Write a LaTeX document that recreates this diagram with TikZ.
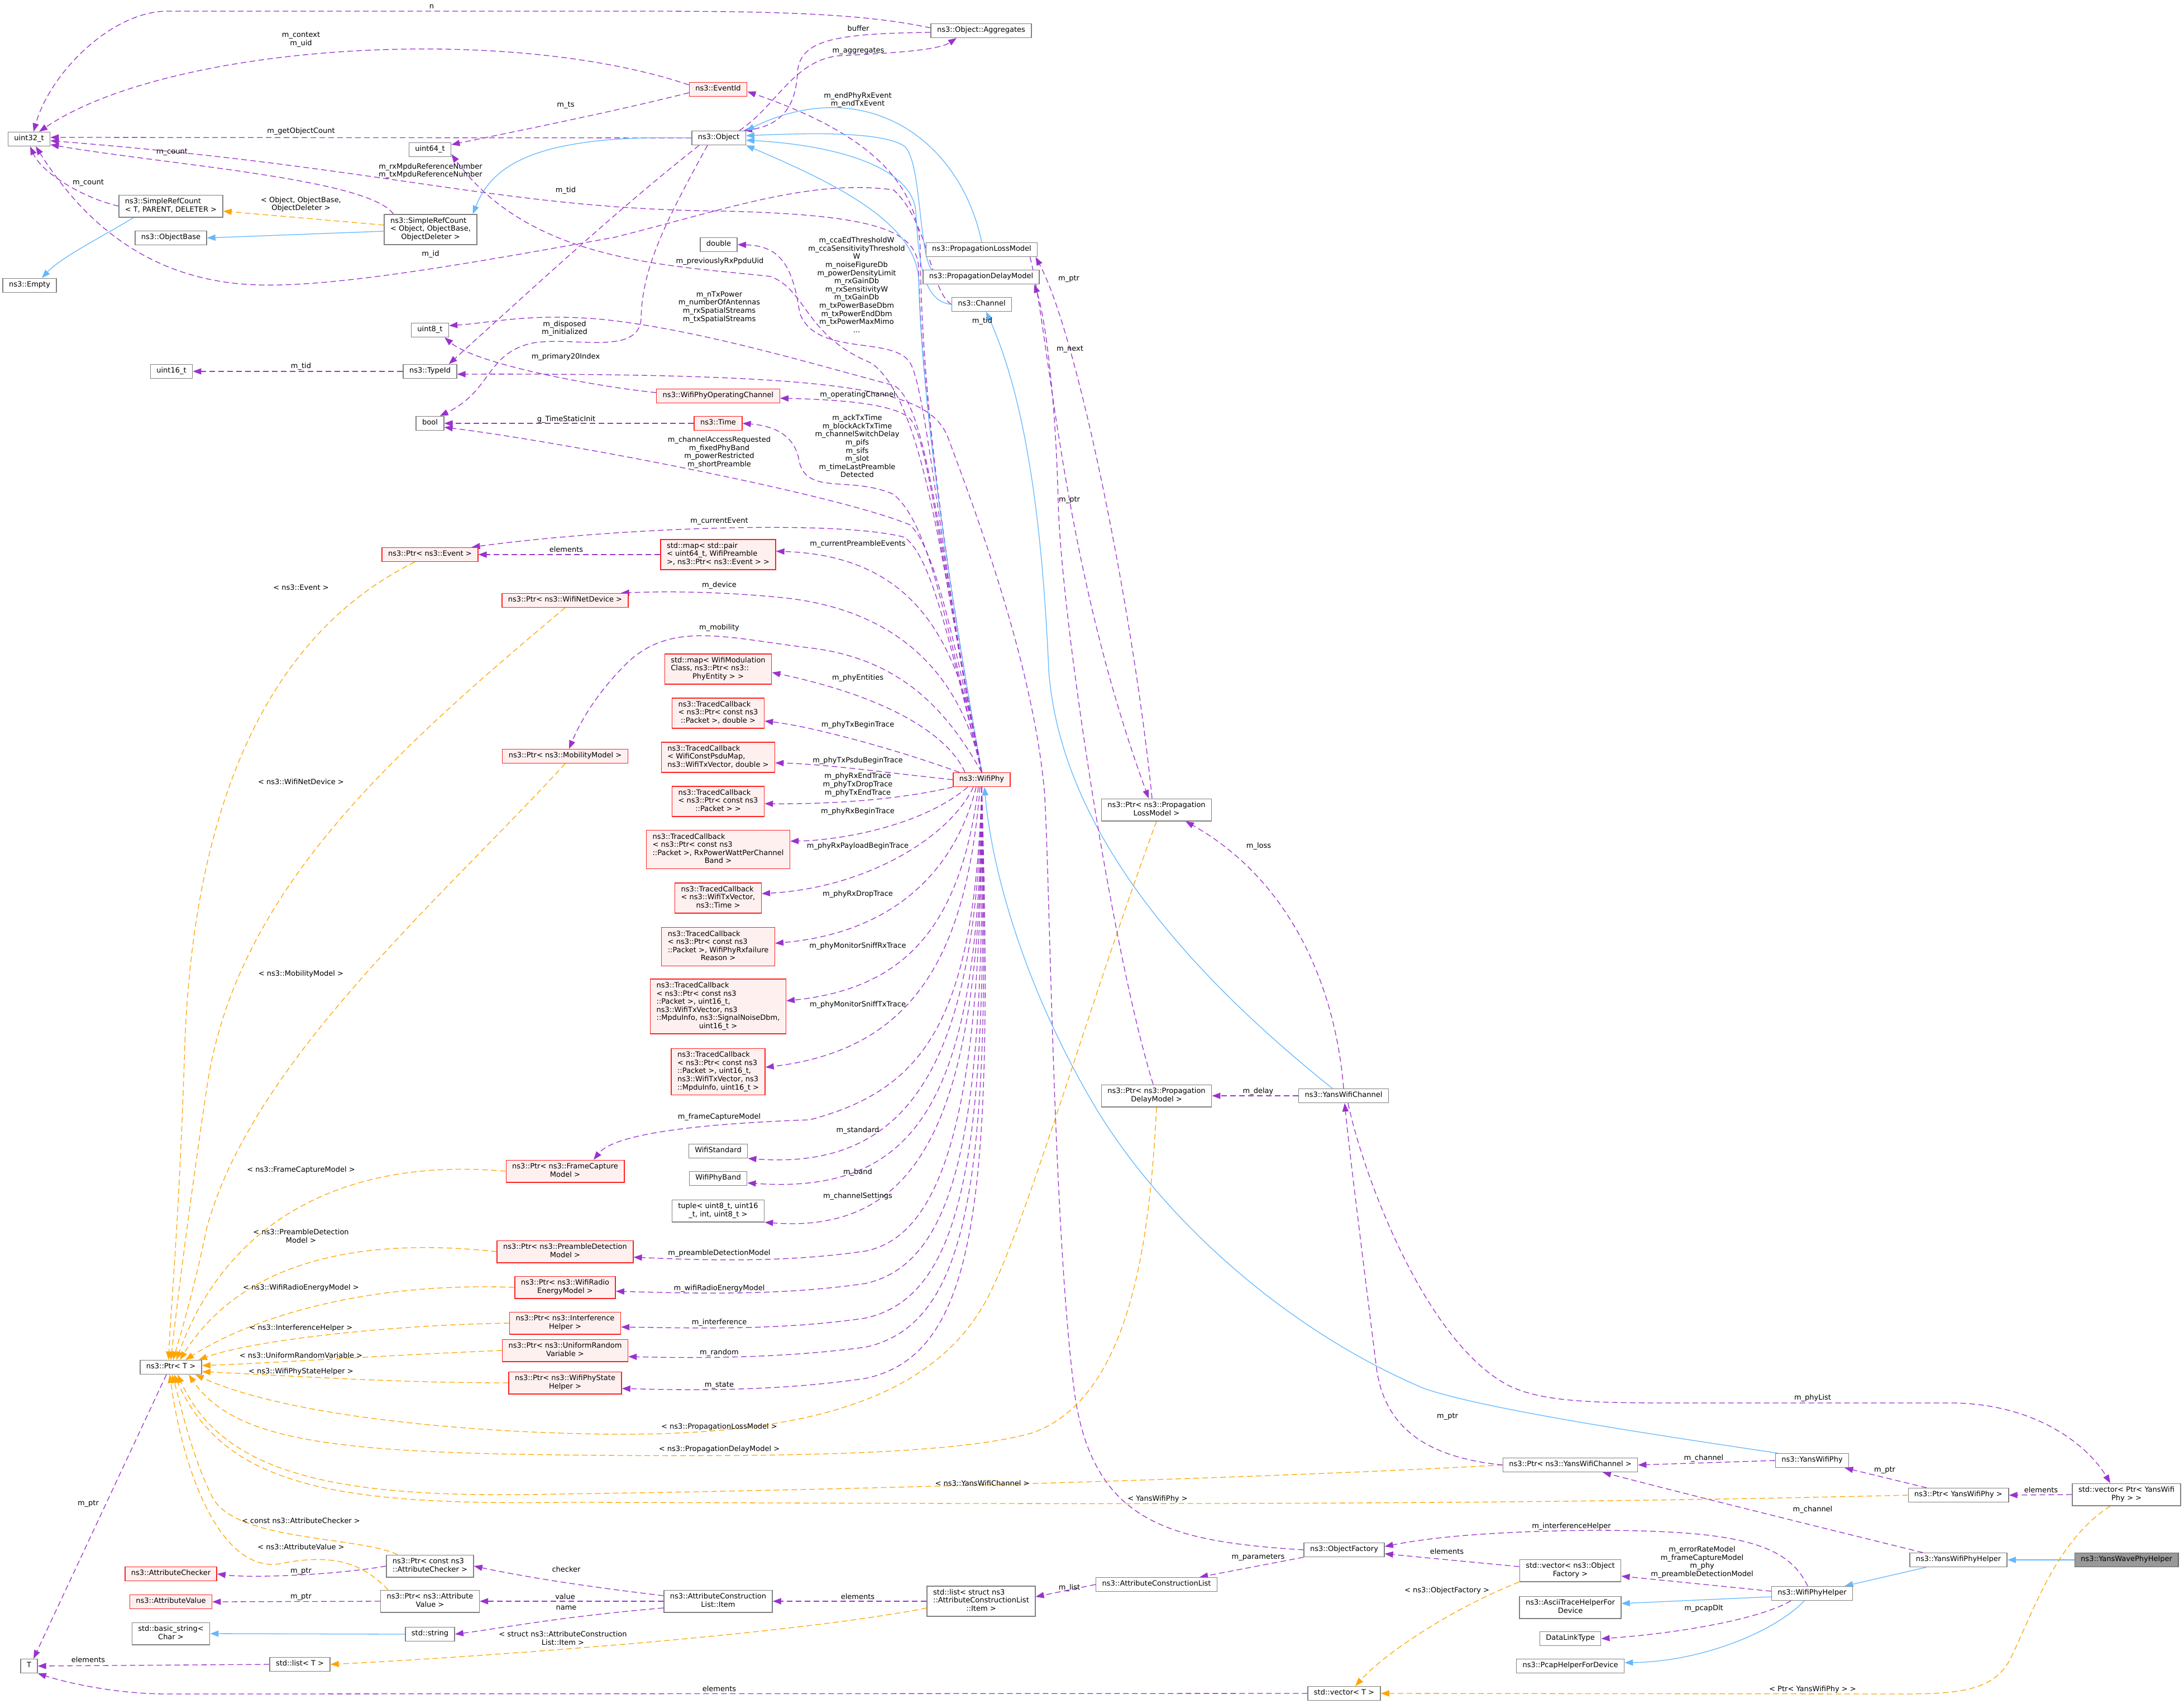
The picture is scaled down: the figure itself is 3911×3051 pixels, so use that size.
\documentclass[tikz,border=0pt]{standalone}
\usepackage{fontspec}
\setmainfont{DejaVu Sans}
\usetikzlibrary{arrows.meta}
\definecolor{purp}{HTML}{9A32CD}
\definecolor{orng}{HTML}{FFA500}
\definecolor{blu}{HTML}{63B8FF}
\definecolor{gborder}{HTML}{808080}
\definecolor{redb}{HTML}{FF2020}
\definecolor{redf}{HTML}{FFF0F0}
\definecolor{hb}{HTML}{666666}
\definecolor{hf}{HTML}{999999}
\pgfdeclarelayer{bg}
\pgfsetlayers{bg,main}
\newcommand{\nodefont}{\fontsize{13}{14.6}\selectfont}
\newcommand{\mytbl}[1]{\begin{tabular}{@{}l@{}}#1\end{tabular}}
\newcommand{\mylc}[1]{\multicolumn{1}{@{}c@{}}{#1}}
\tikzset{
 box/.style={draw=gborder, fill=white, line width=1.4pt, inner xsep=11pt, inner ysep=5.2pt, font=\nodefont},
 rbox/.style={box, draw=redb, fill=redf},
 hbox/.style={box, draw=hb, fill=hf},
 lbl/.style={font=\nodefont, align=center, inner sep=0pt},
 pe/.style={draw=purp, line width=1.3pt, dash pattern=on 10pt off 6pt, -{Triangle[length=15pt,width=11pt]}},
 oe/.style={draw=orng, line width=1.3pt, dash pattern=on 10pt off 6pt, -{Triangle[length=15pt,width=11pt]}},
 be/.style={draw=blu, line width=1.3pt, -{Triangle[length=15pt,width=11pt]}},
}
\begin{document}
\begin{tikzpicture}[x=1pt,y=-1pt]
\useasboundingbox (0,0) rectangle (3911,3051);
% ---------------- nodes ----------------
\node[box] (u32) at (52,249) {\mytbl{uint32\_t}};
\node[box] (u64) at (770,268) {\mytbl{uint64\_t}};
\node[box] (srcT) at (306,369) {\mytbl{ns3::SimpleRefCount\\\mylc{< T, PARENT, DELETER >}}};
\node[box] (objbase) at (306,426) {\mytbl{ns3::ObjectBase}};
\node[box] (srcO) at (771,411) {\mytbl{ns3::SimpleRefCount\\< Object, ObjectBase,\\\mylc{ObjectDeleter >}}};
\node[box] (empty) at (53,511) {\mytbl{ns3::Empty}};
\node[box] (u8) at (770,591) {\mytbl{uint8\_t}};
\node[box] (u16) at (307,665) {\mytbl{uint16\_t}};
\node[box] (typeid) at (770,665) {\mytbl{ns3::TypeId}};
\node[rbox] (eventid) at (1286,160) {\mytbl{ns3::EventId}};
\node[box] (object) at (1287,247) {\mytbl{ns3::Object}};
\node[box] (aggr) at (1757,55) {\mytbl{ns3::Object::Aggregates}};
\node[box] (double) at (1287,438) {\mytbl{double}};
\node[box] (plm) at (1758,447) {\mytbl{ns3::PropagationLossModel}};
\node[box] (pdm) at (1757,496) {\mytbl{ns3::PropagationDelayModel}};
\node[box] (channel) at (1758,545) {\mytbl{ns3::Channel}};
\node[rbox] (opch) at (1286,709) {\mytbl{ns3::WifiPhyOperatingChannel}};
\node[box] (bool) at (770,758) {\mytbl{bool}};
\node[rbox] (time) at (1286,758) {\mytbl{ns3::Time}};
\node[rbox] (pevent) at (770,993) {\mytbl{ns3::Ptr< ns3::Event >}};
\node[rbox] (mapev) at (1286,993) {\mytbl{std::map< std::pair\\< uint64\_t, WifiPreamble\\\mylc{ >, ns3::Ptr< ns3::Event > >}}};
\node[rbox] (pdev) at (1012,1075) {\mytbl{ns3::Ptr< ns3::WifiNetDevice >}};
\node[rbox] (mapmod) at (1286,1198) {\mytbl{std::map< WifiModulation\\Class, ns3::Ptr< ns3::\\\mylc{PhyEntity > >}}};
\node[rbox] (tc1) at (1286,1277) {\mytbl{ns3::TracedCallback\\< ns3::Ptr< const ns3\\\mylc{::Packet >, double >}}};
\node[rbox] (tc2) at (1286,1356) {\mytbl{ns3::TracedCallback\\< WifiConstPsduMap,\\\mylc{ns3::WifiTxVector, double >}}};
\node[rbox] (tc3) at (1286,1435) {\mytbl{ns3::TracedCallback\\< ns3::Ptr< const ns3\\\mylc{::Packet > >}}};
\node[rbox] (tc4) at (1286,1521) {\mytbl{ns3::TracedCallback\\< ns3::Ptr< const ns3\\::Packet >, RxPowerWattPerChannel\\\mylc{Band >}}};
\node[rbox] (tc5) at (1286,1608) {\mytbl{ns3::TracedCallback\\< ns3::WifiTxVector,\\\mylc{ns3::Time >}}};
\node[rbox] (tc6) at (1286,1695) {\mytbl{ns3::TracedCallback\\< ns3::Ptr< const ns3\\::Packet >, WifiPhyRxfailure\\\mylc{Reason >}}};
\node[rbox] (tc7) at (1286,1802) {\mytbl{ns3::TracedCallback\\< ns3::Ptr< const ns3\\::Packet >, uint16\_t,\\ ns3::WifiTxVector, ns3\\::MpduInfo, ns3::SignalNoiseDbm,\\\mylc{uint16\_t >}}};
\node[rbox] (tc8) at (1286,1919) {\mytbl{ns3::TracedCallback\\< ns3::Ptr< const ns3\\::Packet >, uint16\_t,\\ ns3::WifiTxVector, ns3\\\mylc{::MpduInfo, uint16\_t >}}};
\node[rbox] (pmob) at (1012,1354) {\mytbl{ns3::Ptr< ns3::MobilityModel >}};
\node[box] (wstd) at (1286,2061) {\mytbl{WifiStandard}};
\node[box] (wband) at (1286,2110) {\mytbl{WifiPhyBand}};
\node[box] (tuple) at (1286,2168) {\mytbl{tuple< uint8\_t, uint16\\\mylc{\_t, int, uint8\_t >}}};
\node[rbox] (pfc) at (1012,2097) {\mytbl{ns3::Ptr< ns3::FrameCapture\\\mylc{Model >}}};
\node[rbox] (ppd) at (1012,2241) {\mytbl{ns3::Ptr< ns3::PreambleDetection\\\mylc{Model >}}};
\node[rbox] (pre) at (1012,2305) {\mytbl{ns3::Ptr< ns3::WifiRadio\\\mylc{EnergyModel >}}};
\node[rbox] (pih) at (1012,2369) {\mytbl{ns3::Ptr< ns3::Interference\\\mylc{Helper >}}};
\node[rbox] (pur) at (1012,2418) {\mytbl{ns3::Ptr< ns3::UniformRandom\\\mylc{Variable >}}};
\node[rbox] (pps) at (1012,2476) {\mytbl{ns3::Ptr< ns3::WifiPhyState\\\mylc{Helper >}}};
\node[box] (ptrT) at (306,2448) {\mytbl{ns3::Ptr< T >}};
\node[box] (T) at (52,2983) {\mytbl{T}};
\node[rbox] (achk) at (306,2818) {\mytbl{ns3::AttributeChecker}};
\node[rbox] (aval) at (306,2868) {\mytbl{ns3::AttributeValue}};
\node[box] (bstr) at (306,2925) {\mytbl{std::basic\_string<\\\mylc{Char >}}};
\node[box] (listT) at (537,2980) {\mytbl{std::list< T >}};
\node[box] (pachk) at (770,2804) {\mytbl{ns3::Ptr< const ns3\\\mylc{::AttributeChecker >}}};
\node[box] (paval) at (770,2867) {\mytbl{ns3::Ptr< ns3::Attribute\\\mylc{Value >}}};
\node[box] (str) at (770,2926) {\mytbl{std::string}};
\node[box] (item) at (1286,2867) {\mytbl{ns3::AttributeConstruction\\\mylc{List::Item}}};
\node[box] (listItem) at (1757,2867) {\mytbl{std::list< struct ns3\\::AttributeConstructionList\\\mylc{::Item >}}};
\node[box] (acl) at (2071,2837) {\mytbl{ns3::AttributeConstructionList}};
\node[box] (ofac) at (2407,2775) {\mytbl{ns3::ObjectFactory}};
\node[box] (vecof) at (2812,2812) {\mytbl{std::vector< ns3::Object\\\mylc{Factory >}}};
\node[box] (ascii) at (2812,2878) {\mytbl{ns3::AsciiTraceHelperFor\\\mylc{Device}}};
\node[box] (dlt) at (2812,2934) {\mytbl{DataLinkType}};
\node[box] (pcap) at (2812,2983) {\mytbl{ns3::PcapHelperForDevice}};
\node[box] (vecT) at (2407,3032) {\mytbl{std::vector< T >}};
\node[box] (wph) at (3245,2853) {\mytbl{ns3::WifiPhyHelper}};
\node[box] (ywph) at (3507,2793) {\mytbl{ns3::YansWifiPhyHelper}};
\node[hbox] (ywave) at (3808,2793) {\mytbl{ns3::YansWavePhyHelper}};
\node[box] (vecpy) at (3808,2676) {\mytbl{std::vector< Ptr< YansWifi\\\mylc{Phy > >}}};
\node[box] (pywp) at (3507,2677) {\mytbl{ns3::Ptr< YansWifiPhy >}};
\node[box] (ywp) at (3245,2615) {\mytbl{ns3::YansWifiPhy}};
\node[box] (pywc) at (2812,2623) {\mytbl{ns3::Ptr< ns3::YansWifiChannel >}};
\node[box] (ywc) at (2406,1962) {\mytbl{ns3::YansWifiChannel}};
\node[box] (ppdm) at (2071,1962) {\mytbl{ns3::Ptr< ns3::Propagation\\\mylc{DelayModel >}}};
\node[box] (pplm) at (2071,1450) {\mytbl{ns3::Ptr< ns3::Propagation\\\mylc{LossModel >}}};
\node[rbox] (wifiphy) at (1758,1396) {\mytbl{ns3::WifiPhy}};
% ---------------- edges ----------------
\begin{pgfonlayer}{bg}
\fill[white] (0,0) rectangle (3911,3051);
% top area
\draw[pe] ([yshift=5pt]aggr.west) .. controls (1550,25) and (1400,20) .. (1150,20) -- (300,20) .. controls (200,20) and (90,130) .. ([xshift=8pt]u32.north);
\draw[pe] ([yshift=8pt]eventid.west) .. controls (900,40) and (300,80) .. ([xshift=18pt]u32.north);
\draw[pe] ([yshift=-6pt]eventid.west) .. controls (1100,200) and (900,240) .. ([yshift=9pt]u64.east);
\draw[pe] (object.west) -- ([yshift=3pt]u32.east);
\draw[pe] ([xshift=17pt]srcO.north west) .. controls (660,320) and (300,295) .. ([yshift=-10pt]u32.east);
\draw[pe] (srcT.west) .. controls (150,355) and (75,310) .. ([xshift=2pt]u32.south);
\draw[pe] (channel.west) .. controls (1665,520) and (1665,400) .. (1600,340) .. controls (1450,320) and (1300,375) .. (1100,425) .. controls (850,470) and (600,515) .. (460,510) .. controls (300,505) and (170,430) .. ([xshift=12pt]u32.south);
\draw[pe] (wifiphy.north) .. controls (1690,1000) and (1650,700) .. (1645,480) .. controls (1642,410) and (1560,385) .. (1300,378) .. controls (900,375) and (700,300) .. ([yshift=-3pt]u32.east);
\draw[pe] (wifiphy.north) .. controls (1690,1000) and (1650,700) .. (1648,450) .. controls (1646,330) and (1560,240) .. ([yshift=-4pt]eventid.east);
\draw[pe] (wifiphy.north) .. controls (1690,1050) and (1660,720) .. (1560,650) .. controls (1440,600) and (1445,520) .. (1380,495) .. controls (1200,475) and (950,470) .. ([yshift=-8pt]u64.east);
\draw[pe] (wifiphy.north) .. controls (1690,1050) and (1660,700) .. (1630,650) .. controls (1600,600) and (1460,640) .. (1432,560) .. controls (1420,480) and (1400,440) .. (double.east);
\draw[pe] (wifiphy.north) .. controls (1690,1050) and (1665,720) .. (1600,690) .. controls (1450,650) and (1250,590) .. (1080,572) .. controls (950,560) and (880,578) .. ([yshift=8pt]u8.east);
\draw[pe] (wifiphy.north) .. controls (1690,1050) and (1665,790) .. (1630,750) .. controls (1600,720) and (1480,715) .. ([yshift=-4pt]opch.east);
\draw[pe] (wifiphy.north) .. controls (1690,1100) and (1665,940) .. (1600,885) .. controls (1520,850) and (1440,890) .. (1430,820) .. controls (1420,775) and (1380,762) .. (time.east);
\draw[pe] (wifiphy.north) .. controls (1700,1100) and (1670,980) .. (1630,940) .. controls (1500,885) and (1000,790) .. ([yshift=-7pt]bool.east);
\draw[pe] (time.west) -- (bool.east);
\draw[pe] ([xshift=-20pt]object.south) .. controls (1190,400) and (1150,480) .. (1148,570) .. controls (1145,640) and (1020,600) .. (950,615) .. controls (870,635) and (880,700) .. ([xshift=-8pt]bool.north east);
\draw[pe] ([xshift=-35pt]object.south) .. controls (1100,380) and (950,520) .. ([xshift=-15pt]typeid.north east);
\draw[pe] (typeid.west) -- (u16.east);
\draw[pe] ([yshift=6pt]opch.west) .. controls (1050,690) and (850,650) .. ([xshift=-8pt]u8.south east);
\draw[pe] (ofac.west) .. controls (2100,2760) and (1960,2730) .. (1925,2500) .. controls (1885,2200) and (1880,1550) .. (1870,1414) .. controls (1850,1200) and (1760,950) .. (1700,790) .. controls (1670,700) and (1550,668) .. ([yshift=-5pt]typeid.east);
\draw[pe] ([xshift=-12pt]object.north east) .. controls (1390,190) and (1420,110) .. (1500,100) .. controls (1600,95) and (1680,90) .. ([xshift=-44pt]aggr.south);
\draw[pe] ([yshift=-3pt]aggr.west) .. controls (1500,60) and (1432,70) .. (1428,130) .. controls (1425,200) and (1390,225) .. ([xshift=-4pt]object.north east);
% inheritance (blue)
\draw[be] (plm.north) .. controls (1720,250) and (1550,130) .. (object.north east);
\draw[be] ([xshift=16pt]pdm.north west) .. controls (1645,450) and (1650,290) .. (1620,262) .. controls (1580,235) and (1450,238) .. ([yshift=4pt]object.east);
\draw[be] (channel.west) .. controls (1650,540) and (1645,460) .. (1640,380) .. controls (1635,300) and (1500,260) .. ([yshift=-4pt]object.east);
\draw[be] (wifiphy.north) .. controls (1690,1000) and (1650,700) .. (1645,500) .. controls (1640,400) and (1500,330) .. (object.south east);
\draw[be] (object.west) .. controls (950,240) and (880,300) .. ([xshift=-8pt]srcO.north east);
\draw[be] ([yshift=-3pt]srcO.west) -- (objbase.east);
\draw[be] ([xshift=27pt]srcT.south west) .. controls (190,420) and (110,460) .. ([xshift=22pt]empty.north);
\draw[oe] ([yshift=8pt]srcO.west) -- ([yshift=-9pt]srcT.east);
\draw[be] ([xshift=-20pt]ywc.north) .. controls (2150,1760) and (1900,1500) .. (1878,1200) .. controls (1865,900) and (1830,700) .. ([xshift=8pt]channel.south);
\draw[be] ([xshift=5pt]ywp.north west) .. controls (2900,2560) and (2650,2520) .. (2550,2486) .. controls (2300,2380) and (2080,2180) .. (1960,1980) .. controls (1830,1760) and (1775,1550) .. ([xshift=5pt]wifiphy.south);
\draw[be] (ywave.west) -- (ywph.east);
\draw[be] ([xshift=30pt]ywph.south west) -- ([xshift=-15pt]wph.north east);
\draw[be] ([yshift=-6pt]wph.west) -- ([yshift=7pt]ascii.east);
\draw[be] ([xshift=-14pt]wph.south) .. controls (3180,2920) and (3050,2975) .. ([yshift=6pt]pcap.east);
\draw[be] (str.west) -- (bstr.east);
% WifiPhy members (middle column)
\draw[pe] (wifiphy.north) .. controls (1700,1150) and (1670,1000) .. (1620,962) .. controls (1500,930) and (1100,945) .. ([xshift=-12pt]pevent.north east);
\draw[pe] (mapev.west) -- (pevent.east);
\draw[pe] (wifiphy.north) .. controls (1720,1150) and (1640,995) .. ([yshift=6pt]mapev.east);
\draw[pe] (wifiphy.north) .. controls (1720,1200) and (1600,1090) .. (1400,1070) .. controls (1300,1060) and (1200,1058) .. ([xshift=-14pt]pdev.north east);
\draw[pe] (wifiphy.north) .. controls (1700,1280) and (1620,1180) .. (1450,1160) .. controls (1300,1142) and (1200,1110) .. (1120,1190) .. controls (1070,1240) and (1040,1290) .. ([xshift=7pt]pmob.north);
\draw[pe] ([xshift=-30pt]wifiphy.north) .. controls (1700,1320) and (1600,1250) .. ([yshift=-6pt]mapmod.east);
\draw[pe] ([xshift=-40pt]wifiphy.north) .. controls (1600,1340) and (1450,1300) .. ([yshift=-14pt]tc1.east);
\draw[pe] (wifiphy.west) .. controls (1600,1385) and (1480,1368) .. ([yshift=-10pt]tc2.east);
\draw[pe] (wifiphy.south west) .. controls (1620,1430) and (1500,1440) .. ([yshift=-4pt]tc3.east);
\draw[pe] ([xshift=-25pt]wifiphy.south) .. controls (1650,1480) and (1500,1505) .. ([yshift=15pt]tc4.east);
\draw[pe] ([xshift=-15pt]wifiphy.south) .. controls (1700,1500) and (1550,1590) .. ([yshift=8pt]tc5.east);
\draw[pe] ([xshift=-10pt]wifiphy.south) .. controls (1710,1560) and (1600,1670) .. ([yshift=6pt]tc6.east);
\draw[pe] ([xshift=-6pt]wifiphy.south) .. controls (1720,1660) and (1620,1770) .. ([yshift=10pt]tc7.east);
\draw[pe] ([xshift=-3pt]wifiphy.south) .. controls (1730,1720) and (1630,1880) .. ([yshift=8pt]tc8.east);
\draw[pe] (wifiphy.south) .. controls (1745,1820) and (1660,1950) .. (1450,2005) .. controls (1250,2012) and (1100,2030) .. ([xshift=51pt]pfc.north);
\draw[pe] (wifiphy.south) .. controls (1750,1920) and (1620,2095) .. (wstd.south east);
\draw[pe] (wifiphy.south) .. controls (1755,1960) and (1650,2140) .. ([yshift=-8pt]wband.east);
\draw[pe] (wifiphy.south) .. controls (1760,2000) and (1650,2210) .. (tuple.south east);
\draw[pe] (wifiphy.south) .. controls (1760,1950) and (1700,2210) .. (1550,2240) .. controls (1400,2262) and (1250,2256) .. ([yshift=-10pt]ppd.east);
\draw[pe] (wifiphy.south) .. controls (1765,2000) and (1720,2260) .. (1550,2298) .. controls (1400,2320) and (1250,2316) .. ([yshift=-7pt]pre.east);
\draw[pe] (wifiphy.south) .. controls (1770,2050) and (1730,2320) .. (1550,2360) .. controls (1400,2382) and (1250,2378) .. ([yshift=-7pt]pih.east);
\draw[pe] (wifiphy.south) .. controls (1775,2100) and (1740,2370) .. (1550,2412) .. controls (1400,2432) and (1250,2432) .. ([yshift=-11pt]pur.east);
\draw[pe] (wifiphy.south) .. controls (1780,2150) and (1750,2425) .. (1550,2468) .. controls (1400,2490) and (1250,2490) .. ([yshift=-10pt]pps.east);
% template instances to Ptr<T>
\draw[oe] ([xshift=-27pt]pevent.south) .. controls (450,1150) and (340,1500) .. (330,1900) .. controls (320,2200) and (305,2350) .. ([xshift=-4pt]ptrT.north);
\draw[oe] (pdev.south) .. controls (700,1350) and (420,1600) .. (370,1950) .. controls (340,2150) and (315,2350) .. (ptrT.north);
\draw[oe] (pmob.south) .. controls (800,1600) and (450,1900) .. (370,2200) .. controls (345,2320) and (320,2400) .. ([xshift=4pt]ptrT.north);
\draw[oe] (pfc.west) .. controls (600,2070) and (400,2200) .. ([xshift=10pt]ptrT.north);
\draw[oe] (ppd.west) .. controls (600,2210) and (420,2280) .. ([xshift=16pt]ptrT.north);
\draw[oe] (pre.west) .. controls (650,2295) and (450,2360) .. ([xshift=26pt]ptrT.north);
\draw[oe] (pih.west) .. controls (700,2372) and (450,2400) .. ([xshift=-6pt]ptrT.north east);
\draw[oe] (pur.west) .. controls (700,2426) and (500,2440) .. ([yshift=3pt]ptrT.east);
\draw[oe] (pps.west) .. controls (700,2476) and (500,2462) .. ([yshift=-8pt]ptrT.east);
\draw[oe] (pplm.south) .. controls (1950,1800) and (1850,2150) .. (1780,2300) .. controls (1700,2480) and (1500,2570) .. (1100,2568) .. controls (800,2565) and (500,2530) .. ([xshift=-12pt]ptrT.south east);
\draw[oe] (ppdm.south) .. controls (2060,2200) and (2030,2500) .. (1850,2565) .. controls (1700,2610) and (1300,2608) .. (1000,2605) .. controls (600,2600) and (420,2580) .. ([xshift=-24pt]ptrT.south east);
\draw[oe] (pywc.west) .. controls (2200,2650) and (1400,2670) .. (1000,2675) .. controls (600,2685) and (400,2640) .. ([xshift=12pt]ptrT.south);
\draw[oe] (pywp.west) .. controls (2500,2700) and (1500,2690) .. (1000,2690) .. controls (600,2695) and (400,2660) .. ([xshift=6pt]ptrT.south);
\draw[oe] ([xshift=-58pt]pachk.north) .. controls (640,2750) and (420,2760) .. (380,2680) .. controls (340,2600) and (320,2500) .. ([xshift=2pt]ptrT.south);
\draw[oe] ([xshift=-75pt]paval.north) .. controls (650,2800) and (600,2780) .. (500,2800) .. controls (400,2815) and (330,2650) .. ([xshift=-2pt]ptrT.south);
% bottom left
\draw[pe] ([xshift=-8pt]ptrT.south) -- ([xshift=8pt]T.north);
\draw[pe] (listT.west) -- (T.east);
\draw[pe] (vecT.west) -- (300,3033) .. controls (200,3033) and (110,3010) .. (T.south east);
\draw[pe] (pachk.west) .. controls (600,2820) and (450,2826) .. (achk.east);
\draw[pe] (paval.west) -- (aval.east);
\draw[pe] ([yshift=10pt]item.west) .. controls (1000,2835) and (900,2815) .. (pachk.east);
\draw[pe] (item.west) -- (paval.east);
\draw[pe] ([yshift=-12pt]item.west) .. controls (1000,2895) and (900,2915) .. (str.east);
\draw[pe] (listItem.west) -- (item.east);
\draw[oe] ([yshift=-12pt]listItem.west) .. controls (1400,2930) and (800,2970) .. (listT.east);
\draw[pe] (acl.west) -- ([yshift=8pt]listItem.east);
\draw[pe] (ofac.south west) -- ([xshift=-32pt]acl.north east);
\draw[pe] ([yshift=7pt]vecof.west) -- ([yshift=-7pt]ofac.east);
\draw[pe] ([xshift=-8pt]wph.north) .. controls (3200,2760) and (3100,2740) .. (2850,2740) .. controls (2650,2742) and (2550,2755) .. ([yshift=6pt]ofac.east);
\draw[pe] ([yshift=4pt]wph.west) -- ([yshift=-10pt]vecof.east);
\draw[pe] ([xshift=-38pt]wph.south) .. controls (3150,2900) and (3000,2925) .. (dlt.east);
\draw[oe] (vecof.south west) .. controls (2600,2880) and (2480,2960) .. ([xshift=20pt]vecT.north);
\draw[oe] ([xshift=-29pt]vecpy.south) .. controls (3680,2760) and (3640,2890) .. (3600,2970) .. controls (3570,3030) and (3500,3033) .. (3400,3033) -- (vecT.east);
% right side
\draw[pe] ([xshift=24pt]ywph.north west) .. controls (3200,2720) and (3000,2670) .. ([xshift=58pt]pywc.south);
\draw[pe] (ywp.west) -- (pywc.east);
\draw[pe] ([xshift=-57pt]pywp.north) -- ([xshift=-8pt]ywp.south east);
\draw[pe] (vecpy.west) -- (pywp.east);
\draw[pe] (ywc.north) .. controls (2390,1750) and (2300,1570) .. ([xshift=52pt]pplm.south);
\draw[pe] (ywc.west) -- (ppdm.east);
\draw[pe] ([xshift=8pt]ywc.south) .. controls (2440,2100) and (2550,2400) .. (2700,2480) .. controls (2760,2510) and (2850,2512) .. (3000,2512) -- (3500,2512) .. controls (3650,2515) and (3740,2590) .. ([xshift=-29pt]vecpy.north);
\draw[pe] (pywc.west) .. controls (2560,2610) and (2480,2560) .. (2465,2450) .. controls (2440,2250) and (2415,2050) .. ([xshift=2pt]ywc.south);
\draw[pe] ([xshift=-8pt]pplm.north) .. controls (2030,1100) and (1930,600) .. ([xshift=-4pt]plm.south east);
\draw[pe] ([xshift=-14pt]plm.south east) .. controls (1880,600) and (1900,1000) .. ([xshift=-14pt]pplm.north);
\draw[pe] ([xshift=-6pt]ppdm.north) .. controls (1990,1700) and (1900,1100) .. (1895,900) .. controls (1890,700) and (1870,560) .. ([xshift=-10pt]pdm.south east);
\end{pgfonlayer}
% ---------------- labels ----------------
\node[lbl] (l01) at (773,12) {n};
\node[lbl] (l02) at (539,71) {m\_context\\m\_uid};
\node[lbl] (l03) at (1013,188) {m\_ts};
\node[lbl] (l04) at (1537,51) {buffer};
\node[lbl] (l05) at (1537,91) {m\_aggregates};
\node[lbl] (l06) at (1536,179) {m\_endPhyRxEvent\\m\_endTxEvent};
\node[lbl] (l07) at (539,235) {m\_getObjectCount};
\node[lbl] (l08) at (308,272) {m\_count};
\node[lbl] (l09) at (158,327) {m\_count};
\node[lbl] (l10) at (771,306) {m\_rxMpduReferenceNumber\\m\_txMpduReferenceNumber};
\node[lbl] (l11) at (1013,341) {m\_tid};
\node[lbl] (l12) at (539,366) {< Object, ObjectBase,\\ObjectDeleter >};
\node[lbl] (l13) at (771,455) {m\_id};
\node[lbl] (l14) at (1289,468) {m\_previouslyRxPpduUid};
\node[lbl] (l15) at (1534,510) {m\_ccaEdThresholdW\\m\_ccaSensitivityThreshold\\W\\m\_noiseFigureDb\\m\_powerDensityLimit\\m\_rxGainDb\\m\_rxSensitivityW\\m\_txGainDb\\m\_txPowerBaseDbm\\m\_txPowerEndDbm\\m\_txPowerMaxMimo\\...};
\node[lbl] (l16) at (1914,499) {m\_ptr};
\node[lbl] (l17) at (1288,550) {m\_nTxPower\\m\_numberOfAntennas\\m\_rxSpatialStreams\\m\_txSpatialStreams};
\node[lbl] (l18) at (1011,588) {m\_disposed\\m\_initialized};
\node[lbl] (l19) at (1916,625) {m\_next};
\node[lbl] (l20) at (1759,575) {m\_tid};
\node[lbl] (l21) at (1013,639) {m\_primary20Index};
\node[lbl] (l22) at (539,656) {m\_tid};
\node[lbl] (l23) at (1536,707) {m\_operatingChannel};
\node[lbl] (l24) at (1014,751) {g\_TimeStaticInit};
\node[lbl] (l25) at (1535,799) {m\_ackTxTime\\m\_blockAckTxTime\\m\_channelSwitchDelay\\m\_pifs\\m\_sifs\\m\_slot\\m\_timeLastPreamble\\Detected};
\node[lbl] (l26) at (1288,810) {m\_channelAccessRequested\\m\_fixedPhyBand\\m\_powerRestricted\\m\_shortPreamble};
\node[lbl] (l27) at (1915,895) {m\_ptr};
\node[lbl] (l28) at (1288,933) {m\_currentEvent};
\node[lbl] (l29) at (1536,974) {m\_currentPreambleEvents};
\node[lbl] (l30) at (1014,984) {elements};
\node[lbl] (l31) at (539,1052) {< ns3::Event >};
\node[lbl] (l32) at (1288,1048) {m\_device};
\node[lbl] (l33) at (1288,1124) {m\_mobility};
\node[lbl] (l34) at (1536,1214) {m\_phyEntities};
\node[lbl] (l35) at (1536,1298) {m\_phyTxBeginTrace};
\node[lbl] (l36) at (1536,1362) {m\_phyTxPsduBeginTrace};
\node[lbl] (l37) at (539,1400) {< ns3::WifiNetDevice >};
\node[lbl] (l38) at (1536,1405) {m\_phyRxEndTrace\\m\_phyTxDropTrace\\m\_phyTxEndTrace};
\node[lbl] (l39) at (1536,1453) {m\_phyRxBeginTrace};
\node[lbl] (l40) at (2254,1515) {m\_loss};
\node[lbl] (l41) at (1536,1515) {m\_phyRxPayloadBeginTrace};
\node[lbl] (l42) at (1536,1601) {m\_phyRxDropTrace};
\node[lbl] (l43) at (1536,1694) {m\_phyMonitorSniffRxTrace};
\node[lbl] (l44) at (539,1744) {< ns3::MobilityModel >};
\node[lbl] (l45) at (1536,1799) {m\_phyMonitorSniffTxTrace};
\node[lbl] (l46) at (2253,1954) {m\_delay};
\node[lbl] (l47) at (1288,2000) {m\_frameCaptureModel};
\node[lbl] (l48) at (1536,2024) {m\_standard};
\node[lbl] (l49) at (539,2095) {< ns3::FrameCaptureModel >};
\node[lbl] (l50) at (1536,2099) {m\_band};
\node[lbl] (l51) at (1536,2142) {m\_channelSettings};
\node[lbl] (l52) at (539,2213) {< ns3::PreambleDetection\\Model >};
\node[lbl] (l53) at (1288,2244) {m\_preambleDetectionModel};
\node[lbl] (l54) at (539,2306) {< ns3::WifiRadioEnergyModel >};
\node[lbl] (l55) at (1288,2307) {m\_wifiRadioEnergyModel};
\node[lbl] (l56) at (1288,2368) {m\_interference};
\node[lbl] (l57) at (539,2378) {< ns3::InterferenceHelper >};
\node[lbl] (l58) at (1288,2422) {m\_random};
\node[lbl] (l59) at (539,2427) {< ns3::UniformRandomVariable >};
\node[lbl] (l60) at (539,2456) {< ns3::WifiPhyStateHelper >};
\node[lbl] (l61) at (1288,2480) {m\_state};
\node[lbl] (l62) at (3246,2503) {m\_phyList};
\node[lbl] (l63) at (2592,2536) {m\_ptr};
\node[lbl] (l64) at (1288,2555) {< ns3::PropagationLossModel >};
\node[lbl] (l65) at (1288,2595) {< ns3::PropagationDelayModel >};
\node[lbl] (l66) at (3051,2611) {m\_channel};
\node[lbl] (l67) at (3375,2632) {m\_ptr};
\node[lbl] (l68) at (1759,2656) {< ns3::YansWifiChannel >};
\node[lbl] (l69) at (3655,2668) {elements};
\node[lbl] (l70) at (2073,2684) {< YansWifiPhy >};
\node[lbl] (l71) at (158,2692) {m\_ptr};
\node[lbl] (l72) at (3246,2703) {m\_channel};
\node[lbl] (l73) at (539,2723) {< const ns3::AttributeChecker >};
\node[lbl] (l74) at (2814,2733) {m\_interferenceHelper};
\node[lbl] (l75) at (539,2770) {< ns3::AttributeValue >};
\node[lbl] (l76) at (2591,2778) {elements};
\node[lbl] (l77) at (3048,2797) {m\_errorRateModel\\m\_frameCaptureModel\\m\_phy\\m\_preambleDetectionModel};
\node[lbl] (l78) at (2253,2788) {m\_parameters};
\node[lbl] (l79) at (1014,2810) {checker};
\node[lbl] (l80) at (539,2813) {m\_ptr};
\node[lbl] (l81) at (1915,2843) {m\_list};
\node[lbl] (l82) at (2591,2848) {< ns3::ObjectFactory >};
\node[lbl] (l83) at (539,2859) {m\_ptr};
\node[lbl] (l84) at (1012,2859) {value};
\node[lbl] (l85) at (1536,2859) {elements};
\node[lbl] (l86) at (1014,2879) {name};
\node[lbl] (l87) at (3051,2880) {m\_pcapDlt};
\node[lbl] (l88) at (1008,2933) {< struct ns3::AttributeConstruction\\List::Item >};
\node[lbl] (l89) at (158,2972) {elements};
\node[lbl] (l90) at (1288,3024) {elements};
\node[lbl] (l91) at (3246,3025) {< Ptr< YansWifiPhy > >};
\end{tikzpicture}
\end{document}
